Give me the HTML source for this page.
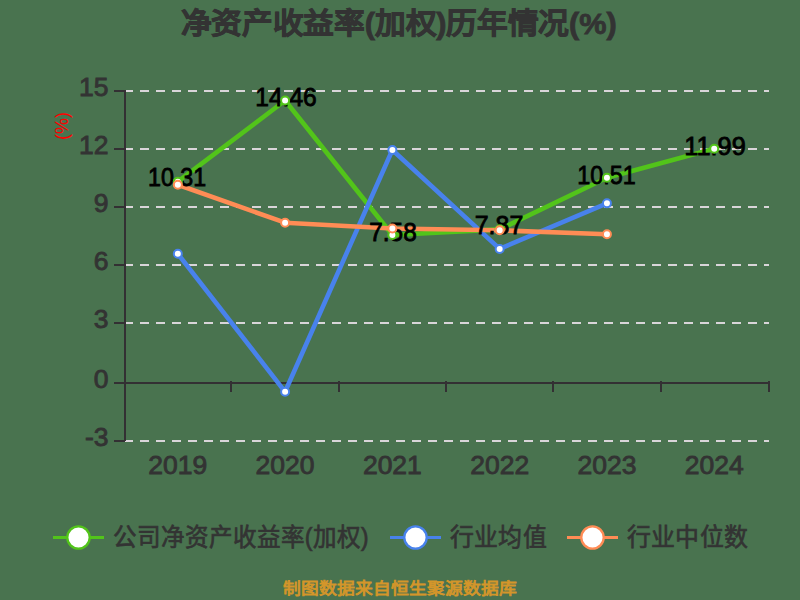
<!DOCTYPE html>
<html lang="zh-CN"><head><meta charset="utf-8">
<style>
html,body{margin:0;padding:0;width:800px;height:600px;overflow:hidden;background:#49734f;}
svg{display:block;}
text{font-family:"Liberation Sans",sans-serif;}
.title{font-size:29px;font-weight:bold;fill:#333333;stroke:#333333;stroke-width:0.8px;}
.ax{font-size:26.5px;fill:#333333;stroke:#333333;stroke-width:0.9px;}
.yname{font-size:18px;fill:#ff0000;}
.lab{font-size:26px;fill:#000;stroke:#000;stroke-width:0.85px;}
.leg{font-size:25.5px;fill:#333333;stroke:#333333;stroke-width:0.7px;}
.foot{font-size:15.8px;fill:#d4962a;stroke:#d4962a;stroke-width:0.8px;}
</style></head><body>
<svg width="800" height="600" viewBox="0 0 800 600">
<rect x="0" y="0" width="800" height="600" fill="#49734f"/>
<line x1="124" y1="91" x2="769" y2="91" stroke="#d9d5d9" stroke-width="2" stroke-dasharray="9 7"/>
<line x1="124" y1="149" x2="769" y2="149" stroke="#d9d5d9" stroke-width="2" stroke-dasharray="9 7"/>
<line x1="124" y1="207" x2="769" y2="207" stroke="#d9d5d9" stroke-width="2" stroke-dasharray="9 7"/>
<line x1="124" y1="265" x2="769" y2="265" stroke="#d9d5d9" stroke-width="2" stroke-dasharray="9 7"/>
<line x1="124" y1="323" x2="769" y2="323" stroke="#d9d5d9" stroke-width="2" stroke-dasharray="9 7"/>
<line x1="124" y1="441" x2="769" y2="441" stroke="#d9d5d9" stroke-width="2" stroke-dasharray="9 7"/>
<line x1="125" y1="90" x2="125" y2="441" stroke="#333033" stroke-width="2"/>
<line x1="114" y1="91" x2="125" y2="91" stroke="#333033" stroke-width="2"/>
<line x1="114" y1="149" x2="125" y2="149" stroke="#333033" stroke-width="2"/>
<line x1="114" y1="207" x2="125" y2="207" stroke="#333033" stroke-width="2"/>
<line x1="114" y1="265" x2="125" y2="265" stroke="#333033" stroke-width="2"/>
<line x1="114" y1="323" x2="125" y2="323" stroke="#333033" stroke-width="2"/>
<line x1="114" y1="383" x2="125" y2="383" stroke="#333033" stroke-width="2"/>
<line x1="114" y1="441" x2="125" y2="441" stroke="#333033" stroke-width="2"/>
<line x1="124" y1="383" x2="770" y2="383" stroke="#333033" stroke-width="2"/>
<line x1="231" y1="381" x2="231" y2="392" stroke="#333033" stroke-width="2"/>
<line x1="339" y1="381" x2="339" y2="392" stroke="#333033" stroke-width="2"/>
<line x1="446" y1="381" x2="446" y2="392" stroke="#333033" stroke-width="2"/>
<line x1="553" y1="381" x2="553" y2="392" stroke="#333033" stroke-width="2"/>
<line x1="661" y1="381" x2="661" y2="392" stroke="#333033" stroke-width="2"/>
<line x1="769" y1="381" x2="769" y2="392" stroke="#333033" stroke-width="2"/>
<line x1="53" y1="537.5" x2="104" y2="537.5" stroke="#52c41a" stroke-width="3.2"/><circle cx="78.5" cy="537.5" r="11.2" fill="#fff" stroke="#52c41a" stroke-width="2.3"/>
<line x1="390" y1="537.5" x2="441" y2="537.5" stroke="#4882ec" stroke-width="3.2"/><circle cx="415.5" cy="537.5" r="11.2" fill="#fff" stroke="#4882ec" stroke-width="2.3"/>
<line x1="567" y1="537.5" x2="618" y2="537.5" stroke="#ff8c55" stroke-width="3.2"/><circle cx="592.5" cy="537.5" r="11.2" fill="#fff" stroke="#ff8c55" stroke-width="2.3"/>
<text x="108.5" y="95.8" text-anchor="end" class="ax">15</text>
<text x="108.5" y="153.8" text-anchor="end" class="ax">12</text>
<text x="108.5" y="211.8" text-anchor="end" class="ax">9</text>
<text x="108.5" y="269.8" text-anchor="end" class="ax">6</text>
<text x="108.5" y="327.8" text-anchor="end" class="ax">3</text>
<text x="108.5" y="387.8" text-anchor="end" class="ax">0</text>
<text x="108.5" y="445.8" text-anchor="end" class="ax">-3</text>
<text x="177.82" y="474" text-anchor="middle" class="ax">2019</text>
<text x="285.10" y="474" text-anchor="middle" class="ax">2020</text>
<text x="392.38" y="474" text-anchor="middle" class="ax">2021</text>
<text x="499.66" y="474" text-anchor="middle" class="ax">2022</text>
<text x="606.94" y="474" text-anchor="middle" class="ax">2023</text>
<text x="714.22" y="474" text-anchor="middle" class="ax">2024</text>
<text transform="translate(67.5,126) rotate(-90)" text-anchor="middle" class="yname">(%)</text>
<text x="398.8" y="34" text-anchor="middle" class="title" textLength="436" lengthAdjust="spacingAndGlyphs">净资产收益率(加权)历年情况(%)</text>
<text x="112.5" y="546" class="leg" textLength="256" lengthAdjust="spacingAndGlyphs">公司净资产收益率(加权)</text>
<text x="449.5" y="546" class="leg" textLength="97.5" lengthAdjust="spacingAndGlyphs">行业均值</text>
<text x="626.5" y="546" class="leg" textLength="122" lengthAdjust="spacingAndGlyphs">行业中位数</text>
<text x="399.5" y="594" text-anchor="middle" class="foot" textLength="234" lengthAdjust="spacingAndGlyphs">制图数据来自恒生聚源数据库</text>
<polyline points="177.82,181.64 285.10,100.51 392.38,235.01 499.66,229.34 606.94,177.73 714.22,148.80" fill="none" stroke="#52c41a" stroke-width="4.6" stroke-linejoin="round"/>
<polyline points="177.82,253.78 285.10,391.80 392.38,149.97 499.66,248.89 606.94,203.34" fill="none" stroke="#4882ec" stroke-width="4.6" stroke-linejoin="round"/>
<polyline points="177.82,184.77 285.10,222.69 392.38,228.56 499.66,230.32 606.94,234.23" fill="none" stroke="#ff8c55" stroke-width="4.6" stroke-linejoin="round"/>
<text x="177.15" y="186.20" text-anchor="middle" class="lab" textLength="58.2" lengthAdjust="spacingAndGlyphs">10.31</text>
<text x="286" y="106.20" text-anchor="middle" class="lab" textLength="61.5" lengthAdjust="spacingAndGlyphs">14.46</text>
<text x="393" y="240.60" text-anchor="middle" class="lab" textLength="47.5" lengthAdjust="spacingAndGlyphs">7.58</text>
<text x="499" y="234.20" text-anchor="middle" class="lab" textLength="48.5" lengthAdjust="spacingAndGlyphs">7.87</text>
<text x="606.5" y="183.95" text-anchor="middle" class="lab" textLength="58.5" lengthAdjust="spacingAndGlyphs">10.51</text>
<text x="715" y="155.20" text-anchor="middle" class="lab" textLength="61.5" lengthAdjust="spacingAndGlyphs">11.99</text>
<circle cx="177.82" cy="181.64" r="4" fill="#fff" stroke="#52c41a" stroke-width="2"/><circle cx="285.10" cy="100.51" r="4" fill="#fff" stroke="#52c41a" stroke-width="2"/><circle cx="392.38" cy="235.01" r="4" fill="#fff" stroke="#52c41a" stroke-width="2"/><circle cx="499.66" cy="229.34" r="4" fill="#fff" stroke="#52c41a" stroke-width="2"/><circle cx="606.94" cy="177.73" r="4" fill="#fff" stroke="#52c41a" stroke-width="2"/><circle cx="714.22" cy="148.80" r="4" fill="#fff" stroke="#52c41a" stroke-width="2"/>
<circle cx="177.82" cy="253.78" r="4" fill="#fff" stroke="#4882ec" stroke-width="2"/><circle cx="285.10" cy="391.80" r="4" fill="#fff" stroke="#4882ec" stroke-width="2"/><circle cx="392.38" cy="149.97" r="4" fill="#fff" stroke="#4882ec" stroke-width="2"/><circle cx="499.66" cy="248.89" r="4" fill="#fff" stroke="#4882ec" stroke-width="2"/><circle cx="606.94" cy="203.34" r="4" fill="#fff" stroke="#4882ec" stroke-width="2"/>
<circle cx="177.82" cy="184.77" r="4" fill="#fff" stroke="#ff8c55" stroke-width="2"/><circle cx="285.10" cy="222.69" r="4" fill="#fff" stroke="#ff8c55" stroke-width="2"/><circle cx="392.38" cy="228.56" r="4" fill="#fff" stroke="#ff8c55" stroke-width="2"/><circle cx="499.66" cy="230.32" r="4" fill="#fff" stroke="#ff8c55" stroke-width="2"/><circle cx="606.94" cy="234.23" r="4" fill="#fff" stroke="#ff8c55" stroke-width="2"/>
</svg>
</body></html>
